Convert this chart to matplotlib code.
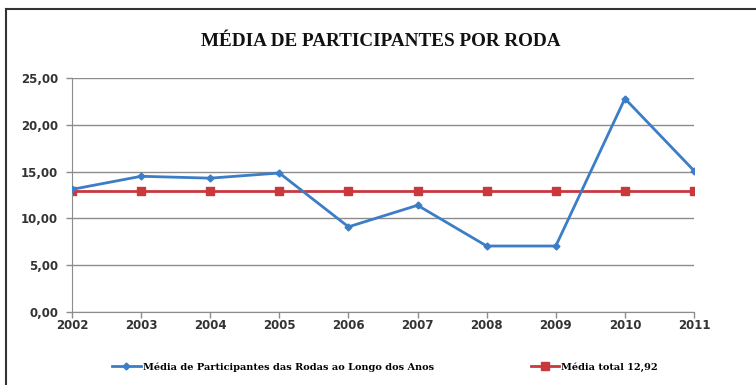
import matplotlib
matplotlib.use("Agg")
import matplotlib.pyplot as plt
from matplotlib.lines import Line2D

years = ["2002", "2003", "2004", "2005", "2006", "2007", "2008", "2009", "2010", "2011"]
media_anos = [13.1, 14.5, 14.3, 14.85, 9.1, 11.4, 7.05, 7.05, 22.8, 15.1]
media_total = [12.92] * len(years)
yticks = [0, 5, 10, 15, 20, 25]
ytick_labels = ["0,00", "5,00", "10,00", "15,00", "20,00", "25,00"]
title = "MÉDIA DE PARTICIPANTES POR RODA"
label_blue = "Média de Participantes das Rodas ao Longo dos Anos"
label_red = "Média total 12,92"

fig = plt.figure(figsize=(7.56, 3.85), dpi=100)
ax = fig.add_axes([72/756, 73/385, (694-72)/756, (312-78)/385])

x = list(range(len(years)))
blue = "#3b7dc6"
red = "#c9383d"
l1, = ax.plot(x, media_anos, color=blue, lw=2, marker="D", ms=3.5, label=label_blue, zorder=3)
l2, = ax.plot(x, media_total, color=red, lw=2, marker="s", ms=5.5, label=label_red, zorder=2)

ax.set_xlim(0, len(years) - 1)
ax.set_ylim(0, 25)
ax.set_yticks(yticks)
ax.set_yticklabels(ytick_labels)
ax.set_xticks(x)
ax.set_xticklabels(years)
ax.yaxis.grid(True, color="#8c8c8c", lw=1)
ax.set_axisbelow(True)
for s in ["top", "right"]:
    ax.spines[s].set_visible(False)
for s in ["left", "bottom"]:
    ax.spines[s].set_color("#8c8c8c")
ax.tick_params(axis="both", colors="#8c8c8c", length=4, width=1, direction="out",
               labelcolor="#333333", labelsize=8.5)
for lab in ax.get_xticklabels() + ax.get_yticklabels():
    lab.set_fontweight("bold")
    lab.set_family("DejaVu Sans")
ax.tick_params(axis="x", pad=1)
ax.tick_params(axis="y", pad=6)

fig.text(381/756, 1 - 42/385, title, ha="center", va="center", fontsize=13.8,
         fontweight="bold", family="Liberation Serif", color="#111111")

leg = fig.legend(handles=[l1, l2], loc="center", bbox_to_anchor=(385/756, 1 - 367/385),
                 ncol=2, frameon=False, columnspacing=10,
                 handlelength=2.9, handletextpad=0.2,
                 prop={"family": "DejaVu Serif", "weight": "bold", "size": 7})

# outer frame (left and top edges)
fig.add_artist(Line2D([6/756, 6/756], [0, 1 - 9/385], transform=fig.transFigure,
                      color="#333333", lw=1.5))
fig.add_artist(Line2D([6/756, 1], [1 - 9/385, 1 - 9/385], transform=fig.transFigure,
                      color="#333333", lw=1.5))

fig.savefig("out.png", dpi=100)
